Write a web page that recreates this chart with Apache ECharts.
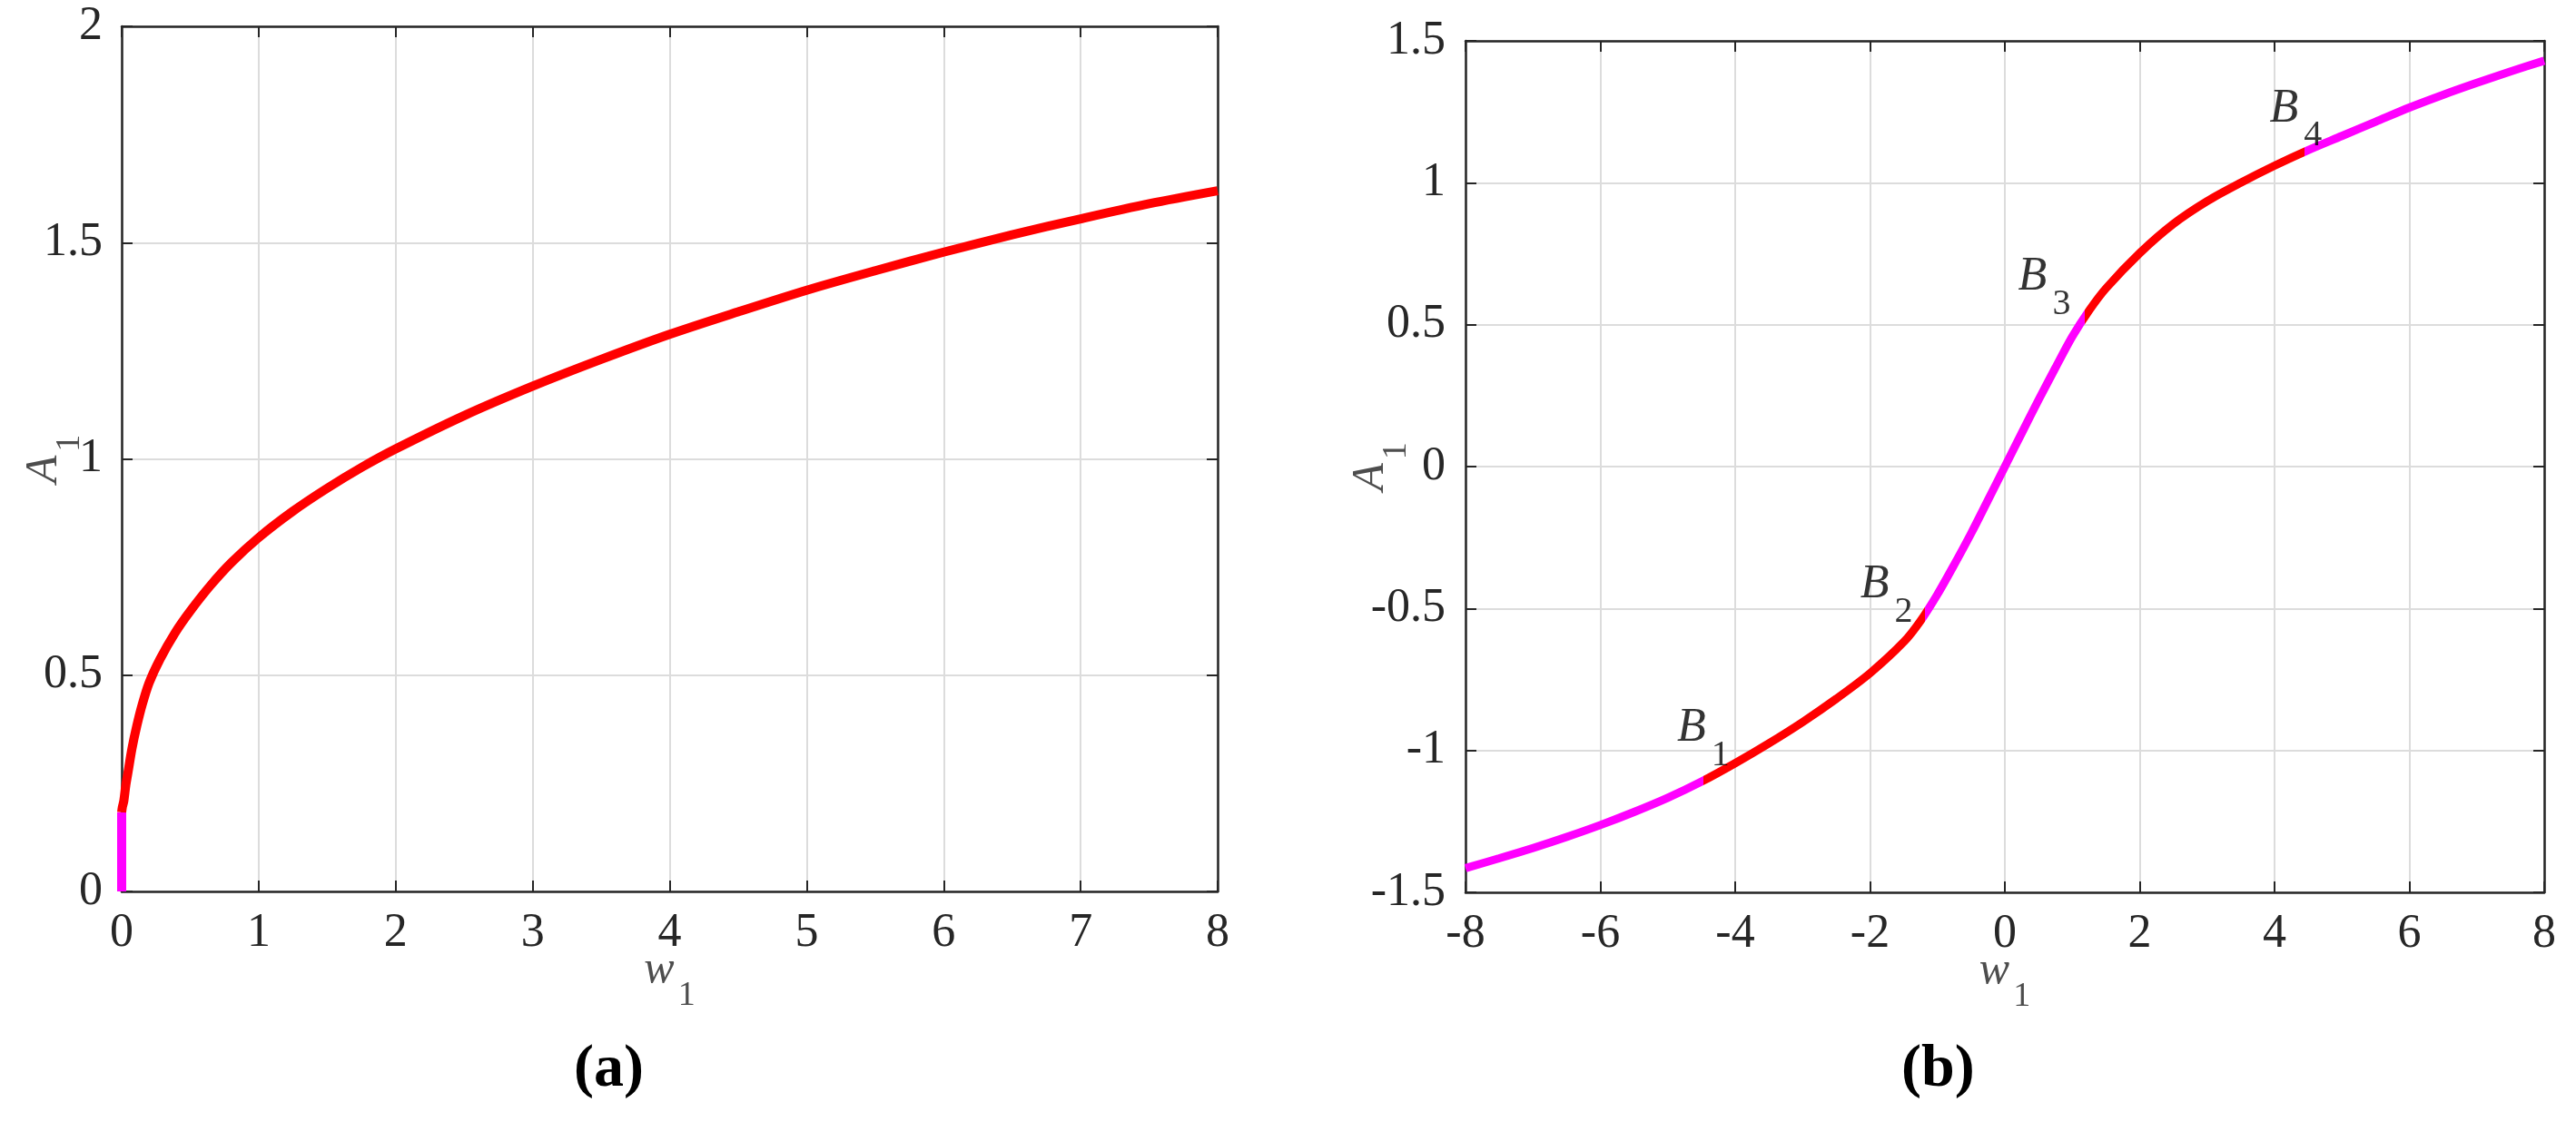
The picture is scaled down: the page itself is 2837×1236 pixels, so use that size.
<!DOCTYPE html>
<html>
<head>
<meta charset="utf-8">
<title>A1 versus w1</title>
<script src="https://cdn.jsdelivr.net/npm/echarts@6/dist/echarts.min.js"></script>
<style>
    html, body { margin: 0; padding: 0; background: #fff; }
    #chart { width: 2837px; height: 1236px; }
</style>
</head>
<body>
<div id="chart"></div>
<script>

// ------------------------------
// Data, panel (a)
// ------------------------------

// upper branch (red)
var w1A = [0, 0.005, 0.015, 0.03, 0.047, 0.075, 0.11, 0.15, 0.2, 0.28, 0.39, 0.5, 0.65, 0.8, 1, 1.25, 1.5, 1.75, 2, 2.5, 3, 3.5, 4, 4.5, 5, 5.5, 6, 6.5, 7, 7.5, 8];
var a1A = [0.183, 0.195, 0.208, 0.245, 0.277, 0.33, 0.382, 0.432, 0.482, 0.537, 0.598, 0.648, 0.708, 0.76, 0.818, 0.879, 0.932, 0.98, 1.023, 1.10, 1.168, 1.23, 1.288, 1.34, 1.39, 1.435, 1.478, 1.518, 1.555, 1.59, 1.62];

// short vertical piece at w1 = 0 (magenta)
var w1A0 = [0, 0];
var a1A0 = [0, 0.183];

// ------------------------------
// Data, panel (b)
// ------------------------------

var w1B = [-8, -7.5, -7, -6.5, -6, -5.5, -5, -4.5, -4, -3.5, -3, -2.5, -2, -1.5, -1.25, -1, -0.75, -0.5, -0.25, 0, 0.25, 0.5, 0.75, 1, 1.25, 1.5, 2, 2.5, 3, 3.5, 4, 4.5, 5, 5.5, 6, 6.5, 7, 7.5, 8];
var a1B = [-1.415, -1.38, -1.344, -1.305, -1.263, -1.217, -1.167, -1.11, -1.045, -0.975, -0.9, -0.818, -0.728, -0.618, -0.543, -0.45, -0.345, -0.235, -0.118, 0, 0.118, 0.235, 0.348, 0.458, 0.55, 0.628, 0.752, 0.855, 0.935, 1.0, 1.06, 1.115, 1.165, 1.215, 1.265, 1.31, 1.352, 1.392, 1.43];

// bifurcation points B1..B4
var bNames = ['1', '2', '3', '4'];
var bW1 = [-4.47, -1.19, 1.18, 4.45];
var bA1 = [-1.107, -0.525, 0.527, 1.11];

// axis ranges / ticks
var xTicksA = [0, 8, 1];
var yTicksA = [0, 2, 0.5];
var xTicksB = [-8, 8, 2];
var yTicksB = [-1.5, 1.5, 0.5];


// ------------------------------
// Styles
// ------------------------------

var RED = '#ff0000';
var MAGENTA = '#ff00ff';
var segColors = [MAGENTA, RED, MAGENTA, RED, MAGENTA];
// label offsets for B1..B4 (pixels from the point)
var bLabelOffsets = [[-29, -8], [-71, 16], [-73, 6], [-39, 3]];

var FONT = 'Liberation Serif, Times New Roman, serif';
var INK = '#262626';

var subName = function(main) {
    return '{m|' + main + '}{s|1}';
};
var nameRich = {
    m: { fontFamily: FONT, fontSize: 50, fontStyle: 'italic', color: '#4d4d4d', padding: [0, 4, 22, 0], verticalAlign: 'bottom', lineHeight: 50 },
    s: { fontFamily: FONT, fontSize: 38, color: '#4d4d4d', verticalAlign: 'bottom', lineHeight: 38 }
};

// main axis (labels, grid lines)
var mainAxis = function(grid, r, extra) {
    var ax = {
        type: 'value',
        gridIndex: grid,
        min: r[0], max: r[1], interval: r[2],
        axisLine: { onZero: false, lineStyle: { color: INK, width: 2.5 } },
        axisTick: { inside: true, length: 12, lineStyle: { color: INK, width: 2 } },
        axisLabel: { fontFamily: FONT, fontSize: 52, color: INK, margin: 20 },
        splitLine: { lineStyle: { color: '#dcdcdc', width: 2 } },
        nameLocation: 'middle',
        nameMoveOverlap: false,
        nameTextStyle: { rich: nameRich }
    };
    for (var k in extra) ax[k] = extra[k];
    return ax;
};

// box side (top / right), ticks only
var boxAxis = function(grid, r, pos) {
    return {
        type: 'value',
        gridIndex: grid,
        position: pos,
        min: r[0], max: r[1], interval: r[2],
        axisLine: { onZero: false, lineStyle: { color: INK, width: 2.5 } },
        axisTick: { inside: true, length: 12, lineStyle: { color: INK, width: 2 } },
        axisLabel: { show: false },
        splitLine: { show: false }
    };
};

// color === null leaves the colour to the visualMap
var lineSeries = function(xi, yi, xs, ys, color, width, clip) {
    var ls = { width: width, cap: 'butt' };
    if (color) ls.color = color;
    return {
        type: 'line',
        xAxisIndex: xi,
        yAxisIndex: yi,
        data: xs.map(function(x, i) { return [x, ys[i]]; }),
        showSymbol: false,
        symbol: 'none',
        smooth: 0.3,
        clip: clip,
        silent: true,
        lineStyle: ls,
        z: 3
    };
};

// colour pieces of panel (b), split at the B points
var bPieces = [];
var segBounds = [null].concat(bW1).concat([null]);
for (var s = 0; s < segColors.length; s++) {
    var p = { color: segColors[s] };
    if (segBounds[s] !== null) p.gte = segBounds[s];
    if (segBounds[s + 1] !== null) p.lt = segBounds[s + 1];
    bPieces.push(p);
}

var chart = echarts.init(document.getElementById('chart'), null, { renderer: 'canvas' });

chart.setOption({
    animation: false,
    backgroundColor: '#ffffff',

    grid: [
        { left: 134, top: 29, width: 1207, height: 953 },
        { left: 1614, top: 45, width: 1188, height: 938 }
    ],

    xAxis: [
        mainAxis(0, xTicksA, { position: 'bottom', name: subName('w'), nameGap: 84 }),
        boxAxis(0, xTicksA, 'top'),
        mainAxis(1, xTicksB, { position: 'bottom', name: subName('w'), nameGap: 84 }),
        boxAxis(1, xTicksB, 'top')
    ],

    yAxis: [
        mainAxis(0, yTicksA, { position: 'left', name: subName('A'), nameGap: 38, axisLabel: { fontFamily: FONT, fontSize: 52, color: INK, margin: 21 } }),
        boxAxis(0, yTicksA, 'right'),
        mainAxis(1, yTicksB, { position: 'left', name: subName('A'), nameGap: 57, axisLabel: { fontFamily: FONT, fontSize: 52, color: INK, margin: 22 } }),
        boxAxis(1, yTicksB, 'right')
    ],

    visualMap: {
        type: 'piecewise',
        show: false,
        dimension: 0,
        seriesIndex: 2,
        pieces: bPieces
    },

    series: [
        lineSeries(0, 0, w1A0, a1A0, MAGENTA, 10, false),
        lineSeries(0, 0, w1A, a1A, RED, 10, false),
        lineSeries(2, 2, w1B, a1B, null, 9, true),
        {
            type: 'scatter',
            xAxisIndex: 2,
            yAxisIndex: 2,
            symbolSize: 1,
            silent: true,
            itemStyle: { color: 'transparent' },
            data: bW1.map(function(w, i) {
                return {
                    value: [w, bA1[i]],
                    label: { offset: bLabelOffsets[i], formatter: '{b|B}{s|' + bNames[i] + '}' }
                };
            }),
            label: {
                show: true,
                position: 'inside',
                align: 'left',
                verticalAlign: 'bottom',
                rich: {
                    b: { fontFamily: FONT, fontSize: 52, fontStyle: 'italic', color: '#000', padding: [0, 6, 24, 0], verticalAlign: 'bottom', lineHeight: 52 },
                    s: { fontFamily: FONT, fontSize: 40, color: '#000', verticalAlign: 'bottom', lineHeight: 40 }
                }
            },
            z: 5
        }
    ],

    // panel captions
    graphic: [
        { type: 'text', left: 632, top: 1146, style: { text: '(a)', font: 'bold 66px ' + FONT, fill: '#000' } },
        { type: 'text', left: 2094, top: 1146, style: { text: '(b)', font: 'bold 66px ' + FONT, fill: '#000' } }
    ]
});

window.addEventListener('resize', function() {
    chart.resize();
});
</script>
</body>
</html>
